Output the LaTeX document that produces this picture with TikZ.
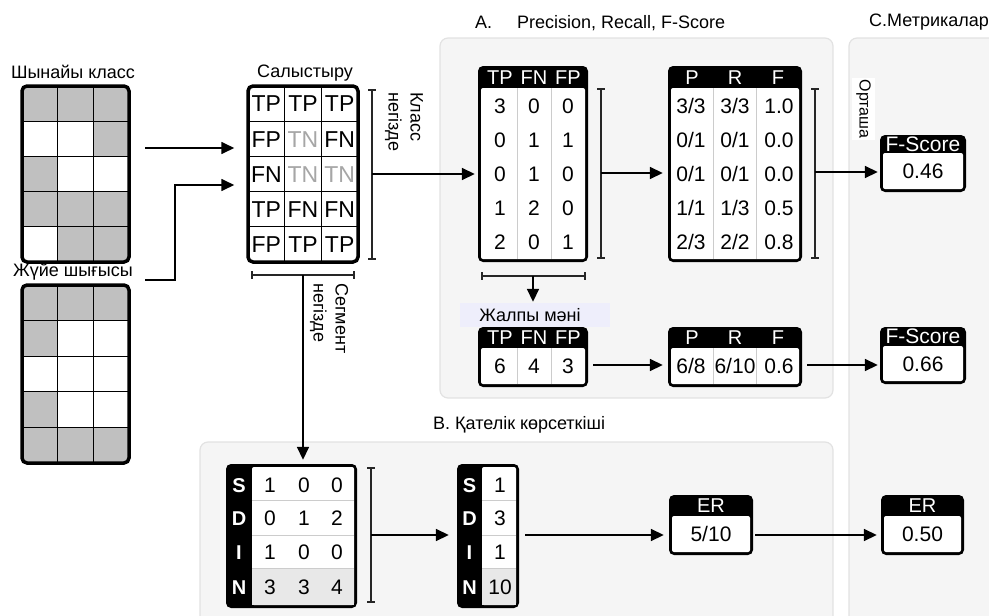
\documentclass[tikz,border=0pt]{standalone}
\usepackage{fontspec}
\setmainfont{Liberation Sans}
\usetikzlibrary{arrows.meta,fit}

\definecolor{panelfill}{HTML}{F5F5F5}
\definecolor{panelline}{HTML}{E2E2E2}
\definecolor{cellgray}{HTML}{C0C0C0}
\definecolor{tngray}{HTML}{A6A6A6}
\definecolor{sepgray}{HTML}{CCCCCC}
\definecolor{rowgray}{HTML}{E8E8E8}
\definecolor{lavender}{HTML}{EEEEFB}

\newcommand\ttlfont{\fontsize{18}{22}\selectfont}
\newcommand\cellfont{\fontsize{23}{26}\selectfont}
\newcommand\numfont{\fontsize{21}{24}\selectfont}
\newcommand\hdrfont{\fontsize{20}{22}\selectfont}

\tikzset{
  panel/.style={fill=panelfill, draw=panelline, line width=1.2pt, rounded corners=8pt},
  box/.style={fill=black, rounded corners=5pt, inner sep=0pt},
  frame/.style={draw=black, line width=3.5pt, rounded corners=5pt, inner sep=0pt},
  gridline/.style={line width=1.3pt},
  sep/.style={draw=sepgray, line width=1pt},
  bracket/.style={draw=black!85, line width=1.3pt},
  arrow/.style={draw=black, line width=1.7pt, -{Triangle[length=13pt,width=12pt]}},
  lbl/.style={font=\ttlfont, inner sep=0pt},
  num/.style={font=\numfont, inner sep=0pt, text height=15pt, text depth=0pt},
  hdr/.style={font=\hdrfont, text=white, inner sep=0pt, text height=14.3pt, text depth=0pt},
  cell/.style={font=\cellfont, inner sep=0pt, text height=16.5pt, text depth=0pt},
}

% 3x5 grid of cells; #5 lists the grey cells as col/row
\newcommand\cellgrid[5]{%
  \begin{scope}
    \clip[rounded corners=5pt] (#1,#2) rectangle ++(#3,#4);
    \fill[white] (#1,#2) rectangle ++(#3,#4);
    \foreach \cc/\rr in {#5}
      \fill[cellgray] ({#1+(\cc-1)*#3/3},{#2+(\rr-1)*#4/5}) rectangle ++({#3/3},{#4/5});
    \foreach \ii in {1,2}
      \draw[gridline] ({#1+\ii*#3/3},#2) -- ++(0,#4);
    \foreach \jj in {1,...,4}
      \draw[gridline] (#1,{#2+\jj*#4/5}) -- ++(#3,0);
  \end{scope}}

% vertical bracket with end caps
\newcommand\vbracket[3]{%
  \draw[bracket] (#1,#2) -- (#1,#3);
  \draw[bracket] ({#1-4},#2) -- ({#1+4},#2);
  \draw[bracket] ({#1-4},#3) -- ({#1+4},#3);}
% horizontal bracket with end caps
\newcommand\hbracket[3]{%
  \draw[bracket] (#2,#1) -- (#3,#1);
  \draw[bracket] (#2,{#1-4}) -- (#2,{#1+4});
  \draw[bracket] (#3,{#1-4}) -- (#3,{#1+4});}

\begin{document}
\begin{tikzpicture}[x=1pt,y=-1pt]
\useasboundingbox (0,0) rectangle (989,616);

% ---- panels ----
\draw[panel] (440,38) rectangle (833,398);
\draw[panel] (200,442) rectangle (833,640);
\draw[panel] (849,38) rectangle (1010,640);

\node[lbl, anchor=west] (ttlA) at (475,23) {A.\hspace*{25pt}Precision, Recall, F-Score};
\node[lbl, anchor=west] (ttlC) at (869,22) {C.Метрикалар};
\node[lbl, anchor=west] (ttlB) at (433,425) {B. Қателік көрсеткіші};

% ---- input grids ----
\node[lbl] (ttlT) at (73,72) {Шынайы класс};
\cellgrid{22}{86}{107}{176}{1/1,2/1,3/1,3/2,1/3,1/4,2/4,3/4,2/5,3/5}
\node[frame, fit={(22,86) (129,262)}] (truth) {};

\node[lbl] (ttlS) at (73,272) {Жүйе шығысы};
\cellgrid{22}{285}{107}{178}{1/1,2/1,3/1,1/2,1/4,1/5,2/5,3/5}
\node[frame, fit={(22,285) (129,463)}] (sys) {};

% ---- comparison grid ----
\node[lbl] (ttlCmp) at (305,73) {Салыстыру};
\cellgrid{248}{86}{110}{176}{}
\foreach \cc/\rr/\tt/\col in {1/1/TP/black,2/1/TP/black,3/1/TP/black,
    1/2/FP/black,2/2/TN/tngray,3/2/FN/black,
    1/3/FN/black,2/3/TN/tngray,3/3/TN/tngray,
    1/4/TP/black,2/4/FN/black,3/4/FN/black,
    1/5/FP/black,2/5/TP/black,3/5/TP/black}
  \node[cell, text=\col] at ({248+(\cc-0.5)*110/3},{86+(\rr-0.5)*176/5}) {\tt};
\node[frame, fit={(248,86) (358,262)}] (cmp) {};

\coordinate (in1) at (145,148);
\coordinate (in2) at (145,280);
\coordinate (in2b) at (175,185);
\draw[arrow, shorten >=12pt] (in1) -- (in1 -| cmp.west);
\draw[arrow, shorten >=12pt] (in2) -| (in2b) -- (in2b -| cmp.west);

% class-based bracket
\vbracket{372}{90}{259}
\node[lbl, rotate=-90, anchor=west, align=left, font=\fontsize{18}{22}\selectfont] (lblClass) at (404,92) {Класс\\негізде};
% segment-based bracket
\hbracket{275}{252}{354}
\node[lbl, rotate=-90, anchor=west, align=left, font=\fontsize{18}{22}\selectfont] (lblSeg) at (329,283) {Сегмент\\негізде};

% ---- A: class-wise counts ----
\node[box, fit={(478,66) (588,262)}] (tp) {};
\fill[white, rounded corners=2pt] (481,88) rectangle (585,259);
\draw[sep] (517,88) -- (517,259);
\draw[sep] (551,88) -- (551,259);
\foreach \xx/\tt in {500/TP,534/FN,568/FP} \node[hdr] at (\xx,77) {\tt};
\foreach \yy/\a/\b/\c in {106/3/0/0,140/0/1/1,174/0/1/0,208/1/2/0,242/2/0/1}{
  \node[num] at (500,\yy) {\a};
  \node[num] at (534,\yy) {\b};
  \node[num] at (568,\yy) {\c};}

\node[box, fit={(668,66) (802,262)}] (prf) {};
\fill[white, rounded corners=2pt] (671,88) rectangle (799,259);
\draw[sep] (713,88) -- (713,259);
\draw[sep] (756,88) -- (756,259);
\foreach \xx/\tt in {692/P,735/R,778/F} \node[hdr] at (\xx,77) {\tt};
\foreach \yy/\a/\b/\c in {106/3\slash3/3\slash3/1.0,140/0\slash1/0\slash1/0.0,174/0\slash1/0\slash1/0.0,208/1\slash1/1\slash3/0.5,242/2\slash3/2\slash2/0.8}{
  \node[num] at (691,\yy) {\a};
  \node[num] at (735,\yy) {\b};
  \node[num] at (779,\yy) {\c};}

\vbracket{601}{89}{258}
\vbracket{815}{89}{258}
\hbracket{276}{482}{585}

% ---- A: totals ----
\node[fill=lavender, inner sep=0pt, fit={(460,303) (610,327)}] (totlbl) {};
\node[lbl] at (530,315) {Жалпы мәні};

\node[box, fit={(478,327) (588,387)}] (tot) {};
\fill[white, rounded corners=2pt] (481,348) rectangle (585,384);
\draw[sep] (517,348) -- (517,384);
\draw[sep] (551,348) -- (551,384);
\foreach \xx/\tt in {500/TP,534/FN,568/FP} \node[hdr] at (\xx,337.5) {\tt};
\node[num] at (500,366) {6};
\node[num] at (534,366) {4};
\node[num] at (568,366) {3};

\node[box, fit={(668,327) (802,387)}] (totprf) {};
\fill[white, rounded corners=2pt] (671,348) rectangle (799,384);
\draw[sep] (713,348) -- (713,384);
\draw[sep] (756,348) -- (756,384);
\foreach \xx/\tt in {692/P,735/R,778/F} \node[hdr] at (\xx,337.5) {\tt};
\node[num] at (691,366) {6/8};
\node[num] at (735,366) {6/10};
\node[num] at (779,366) {0.6};

% ---- C: metrics ----
\node[fill=white, inner sep=0pt, fit={(852,78) (875,140)}] (avgbg) {};
\node[lbl, rotate=-90, font=\fontsize{16}{20}\selectfont] (avg) at (863.5,109) {Орташа};

\node[box, fit={(880,135) (966,192)}] (fs1) {};
\fill[white, rounded corners=2pt] (883,153) rectangle (963,189);
\node[hdr, font=\fontsize{21}{22}\selectfont, text height=14pt] at (923,144) {F-Score};
\node[num] at (923,171) {0.46};

\node[box, fit={(880,327) (966,384)}] (fs2) {};
\fill[white, rounded corners=2pt] (883,346) rectangle (963,381);
\node[hdr, font=\fontsize{21}{22}\selectfont, text height=14pt] at (923,336) {F-Score};
\node[num] at (923,364) {0.66};

% ---- B: error rate ----
\node[box, fit={(226,464) (357,608)}] (sdin) {};
\fill[white, rounded corners=2pt] (252,467) rectangle (354,605);
\fill[rowgray] (252,568) rectangle (354,605);
\draw[sep] (252,500) -- (354,500);
\draw[sep] (252,535) -- (354,535);
\draw[sep] (252,568) -- (354,568);
\foreach \yy/\ll/\a/\b/\c in {485/S/1/0/0,518/D/0/1/2,552/I/1/0/0,587/N/3/3/4}{
  \node[hdr, font=\bfseries\hdrfont] at (239,\yy) {\ll};
  \node[num] at (270,\yy) {\a};
  \node[num] at (304,\yy) {\b};
  \node[num] at (337,\yy) {\c};}

\node[box, fit={(457,464) (519,608)}] (sdsum) {};
\fill[white, rounded corners=2pt] (482,467) rectangle (516,605);
\fill[rowgray] (482,568) rectangle (516,605);
\draw[sep] (482,500) -- (516,500);
\draw[sep] (482,535) -- (516,535);
\draw[sep] (482,568) -- (516,568);
\foreach \yy/\ll/\a in {485/S/1,518/D/3,552/I/1,587/N/10}{
  \node[hdr, font=\bfseries\hdrfont] at (469.5,\yy) {\ll};
  \node[num] at (500,\yy) {\a};}

\vbracket{371}{468}{602}

\node[box, fit={(669,495) (753,555)}] (er1) {};
\fill[white, rounded corners=2pt] (672,516) rectangle (750,552);
\node[hdr] at (711,505.5) {ER};
\node[num] at (711,534) {5/10};

\node[box, fit={(881,495) (964,555)}] (er2) {};
\fill[white, rounded corners=2pt] (884,516) rectangle (961,552);
\node[hdr] at (922.5,505.5) {ER};
\node[num] at (922.5,534) {0.50};

% ---- connectors ----
\coordinate (cmpbr) at (372,174);
\coordinate (tpbr) at (601,173);
\coordinate (prfbr) at (815,172);
\coordinate (tpbot) at (533,276);
\coordinate (totrow) at (0,365);
\coordinate (cmpbot) at (303,275);
\coordinate (sdinbr) at (371,535);
\coordinate (errow) at (0,535);

\draw[arrow, shorten >=3pt] (cmpbr) -- (cmpbr -| tp.west);
\draw[arrow, shorten >=5pt] (tpbr) -- (tpbr -| prf.west);
\draw[arrow, shorten >=2pt] (prfbr) -- (prfbr -| fs1.west);
\draw[arrow, shorten >=1pt] (tpbot) -- (tpbot |- totlbl.north);
\draw[arrow, shorten <=5pt, shorten >=5pt] (tot.east |- totrow) -- (totprf.west |- totrow);
\draw[arrow, shorten <=5pt, shorten >=2pt] (totprf.east |- totrow) -- (fs2.west |- totrow);
\draw[arrow, shorten >=4pt] (cmpbot) -- (cmpbot |- sdin.north);
\draw[arrow, shorten >=8pt] (sdinbr) -- (sdinbr -| sdsum.west);
\draw[arrow, shorten <=6pt, shorten >=5pt] (sdsum.east |- errow) -- (er1.west |- errow);
\draw[arrow, shorten <=2pt, shorten >=4pt] (er1.east |- errow) -- (er2.west |- errow);
\end{tikzpicture}
\end{document}
